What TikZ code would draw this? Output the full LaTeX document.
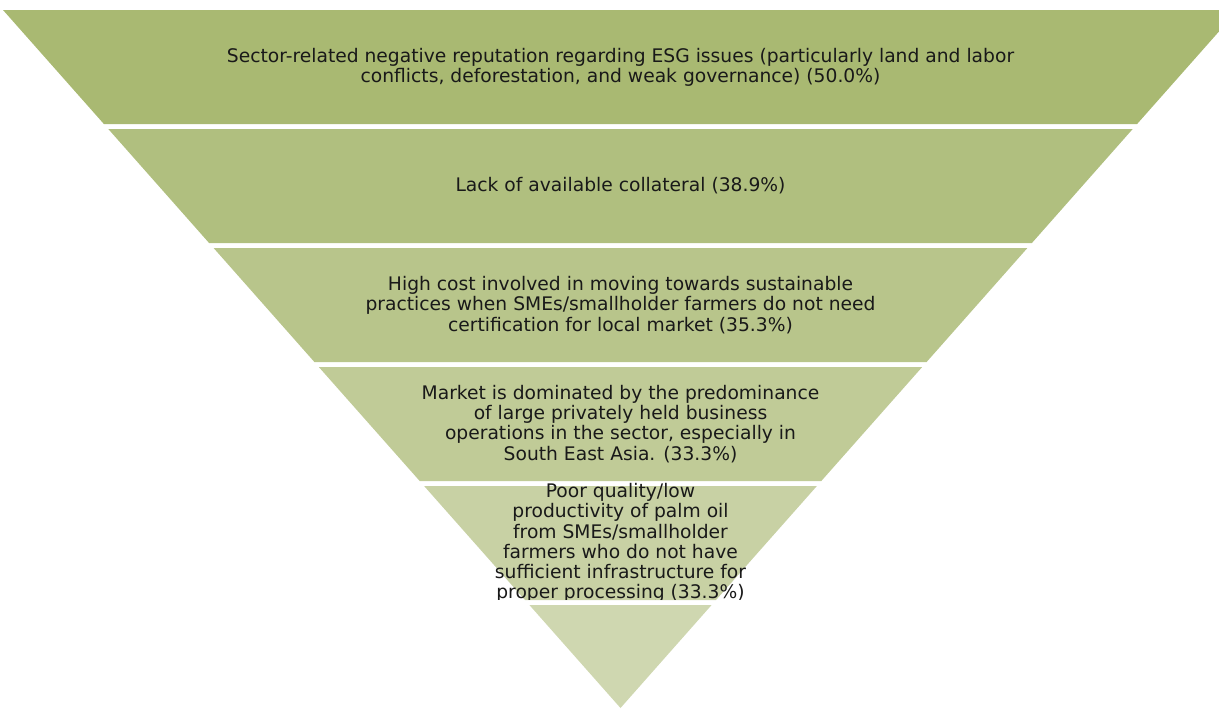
\documentclass[tikz,border=0pt]{standalone}
\usepackage{fontspec}
\setmainfont{DejaVu Sans}
\definecolor{bandA}{RGB}{169,185,114}
\definecolor{bandB}{RGB}{176,191,127}
\definecolor{bandC}{RGB}{184,197,139}
\definecolor{bandD}{RGB}{192,203,151}
\definecolor{bandE}{RGB}{200,209,164}
\definecolor{bandF}{RGB}{207,215,176}
\begin{document}
\begin{tikzpicture}[x=1pt,y=-1pt,
        bandtext/.style={align=center,inner sep=0pt,text=black!90,
            font=\fontsize{18.7}{20.2}\selectfont}]
        \useasboundingbox (0,0) rectangle (1219,710);
        \clip (0,0) rectangle (1219,710);
        % funnel bands, top to bottom
        \fill[bandA] (3,10) -- (1238,10) -- (1137.1,124) -- (103.9,124) -- cycle;
        \fill[bandB] (108.3,129) -- (1132.7,129) -- (1031.9,243) -- (209.1,243) -- cycle;
        \fill[bandC] (213.6,248) -- (1027.4,248) -- (926.6,362) -- (314.4,362) -- cycle;
        \fill[bandD] (318.8,367) -- (922.2,367) -- (821.3,481) -- (419.7,481) -- cycle;
        \fill[bandE] (424.1,486) -- (816.9,486) -- (716,600) -- (525,600) -- cycle;
        \fill[bandF] (529.4,605) -- (711.6,605) -- (620.5,708) -- cycle;
        % labels
        \node[bandtext] (esg) at (620.5,67) {Sector-related negative reputation regarding ESG issues (particularly land and labor\\conflicts, deforestation, and weak governance) (50.0\%)};
        \node[bandtext] (collateral) at (620.5,186) {Lack of available collateral (38.9\%)};
        \node[bandtext] (cost) at (620.5,305) {High cost involved in moving towards sustainable\\practices when SMEs/smallholder farmers do not need\\certification for local market (35.3\%)};
        \node[bandtext] (market) at (620.5,424) {Market is dominated by the predominance\\of large privately held business\\operations in the sector, especially in\\South East Asia. (33.3\%)};
        \begin{scope}
            \clip (0,480) rectangle (1219,599.5);
            \node[bandtext] (quality) at (620.5,543) {Poor quality/low\\productivity of palm oil\\from SMEs/smallholder\\farmers who do not have\\sufficient infrastructure for\\proper processing (33.3\%)};
        \end{scope}
    \end{tikzpicture}
\end{document}
